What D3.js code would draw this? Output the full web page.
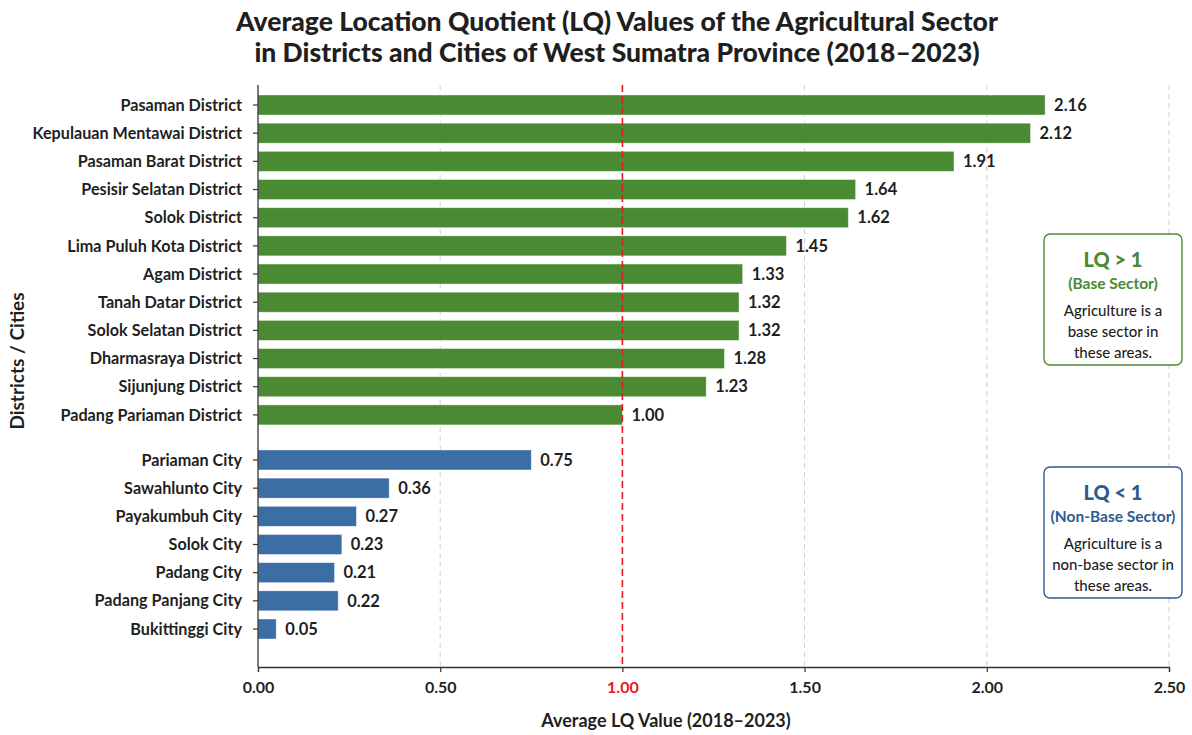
<!DOCTYPE html>
<html>
<head>
<meta charset="utf-8">
<script src="https://cdn.jsdelivr.net/npm/d3@7"></script>
<style>
  body { margin: 0; background: #fff; }
  svg { display: block; font-family: Lato, "Open Sans", sans-serif; }
</style>
</head>
<body>
<div id="chart"></div>
<script>
// Average LQ of the agricultural sector, West Sumatra (2018-2023)
var districts = [
  'Pasaman District', 'Kepulauan Mentawai District', 'Pasaman Barat District',
  'Pesisir Selatan District', 'Solok District', 'Lima Puluh Kota District',
  'Agam District', 'Tanah Datar District', 'Solok Selatan District',
  'Dharmasraya District', 'Sijunjung District', 'Padang Pariaman District'
];
var districtLQ = [2.16, 2.12, 1.91, 1.64, 1.62, 1.45, 1.33, 1.32, 1.32, 1.28, 1.23, 1.00];

var cities = [
  'Pariaman City', 'Sawahlunto City', 'Payakumbuh City', 'Solok City',
  'Padang City', 'Padang Panjang City', 'Bukittinggi City'
];
var cityLQ = [0.75, 0.36, 0.27, 0.23, 0.21, 0.22, 0.05];

var xTicks = [0, 0.5, 1.0, 1.5, 2.0, 2.5];

(function() {
  'use strict';

  var width = 1192, height = 735;
  var green = '#4a8a32', blue = '#3b6ea5', red = '#e8191f', ink = '#1f1f1f';

  var svg = d3.select('#chart').append('svg')
    .attr('width', width)
    .attr('height', height);

  // Title
  var title = svg.append('text')
    .attr('text-anchor', 'middle')
    .style('font-size', '26.5px')
    .style('font-weight', '900')
    .style('fill', ink);
  title.append('tspan').attr('x', 617).attr('y', 31)
    .text('Average Location Quotient (LQ) Values of the Agricultural Sector');
  title.append('tspan').attr('x', 617).attr('y', 62)
    .text('in Districts and Cities of West Sumatra Province (2018\u20132023)');

  // Build rows: districts, then a small gap, then cities
  var rows = districts.map(function(name, i) {
    return { name: name, value: districtLQ[i], slot: i, group: 'district' };
  }).concat(cities.map(function(name, i) {
    return { name: name, value: cityLQ[i], slot: districts.length + 0.6 + i, group: 'city' };
  }));

  var plotTop = 85, plotBottom = 667;
  var x = d3.scaleLinear().domain([0, 2.5]).range([258, 1169]);
  var y = d3.scaleLinear().domain([0, rows.length - 1 + 0.6]).range([105, 629]);
  var barH = 20;

  // Grid lines
  svg.append('g').selectAll('line')
    .data(xTicks.filter(function(t) { return t > 0 && t !== 1.0; }))
    .join('line')
    .attr('x1', function(d) { return x(d); })
    .attr('x2', function(d) { return x(d); })
    .attr('y1', plotTop)
    .attr('y2', plotBottom)
    .style('stroke', '#cfcfcf')
    .style('stroke-width', 1)
    .style('stroke-dasharray', '5,4');

  // Bars
  svg.append('g').selectAll('rect')
    .data(rows)
    .join('rect')
    .attr('x', x(0))
    .attr('y', function(d) { return y(d.slot) - barH / 2; })
    .attr('width', function(d) { return x(d.value) - x(0); })
    .attr('height', barH)
    .style('fill', function(d) { return d.group === 'district' ? green : blue; })
    .style('stroke', 'rgba(255,255,255,0.5)')
    .style('stroke-width', 0.8);

  // Value labels
  svg.append('g').selectAll('text')
    .data(rows)
    .join('text')
    .attr('x', function(d) { return x(d.value) + 9; })
    .attr('y', function(d) { return y(d.slot); })
    .attr('dy', '0.35em')
    .text(function(d) { return d.value.toFixed(2); })
    .style('font-size', '16.5px')
    .style('font-weight', '700')
    .style('fill', ink);

  // Reference line at LQ = 1
  svg.append('line')
    .attr('x1', x(1)).attr('x2', x(1))
    .attr('y1', plotTop).attr('y2', plotBottom)
    .style('stroke', red)
    .style('stroke-width', 1.6)
    .style('stroke-dasharray', '7,4');

  // Y axis
  var yAxis = svg.append('g');
  yAxis.append('line')
    .attr('x1', x(0)).attr('x2', x(0))
    .attr('y1', plotTop).attr('y2', plotBottom)
    .style('stroke', '#333').style('stroke-width', 1.3);
  var yt = yAxis.selectAll('g.tick')
    .data(rows)
    .join('g')
    .attr('class', 'tick')
    .attr('transform', function(d) { return 'translate(' + x(0) + ',' + y(d.slot) + ')'; });
  yt.append('line').attr('x1', -5).attr('x2', 0)
    .style('stroke', '#333').style('stroke-width', 1.2);
  yt.append('text')
    .attr('x', -16)
    .attr('dy', '0.35em')
    .attr('text-anchor', 'end')
    .text(function(d) { return d.name; })
    .style('font-size', '16.2px')
    .style('font-weight', '700')
    .style('fill', ink);

  // X axis
  var xAxis = svg.append('g')
    .attr('transform', 'translate(0,' + plotBottom + ')')
    .call(d3.axisBottom(x).tickValues(xTicks).tickFormat(d3.format('.2f')).tickSize(5).tickPadding(10));
  xAxis.select('.domain').style('stroke', '#333').style('stroke-width', 1.3);
  xAxis.selectAll('.tick line').style('stroke', '#333').style('stroke-width', 1.2);
  xAxis.selectAll('.tick text')
    .style('font-family', 'Lato, sans-serif')
    .style('font-size', '16px')
    .style('font-weight', '700')
    .style('fill', function(d) { return d === 1 ? red : ink; });

  // Axis titles
  svg.append('text')
    .attr('x', 666)
    .attr('y', 727)
    .attr('text-anchor', 'middle')
    .text('Average LQ Value (2018\u20132023)')
    .style('font-size', '18px')
    .style('font-weight', '700')
    .style('fill', ink);

  svg.append('text')
    .attr('transform', 'translate(24,' + 361 + ') rotate(-90)')
    .attr('text-anchor', 'middle')
    .text('Districts / Cities')
    .style('font-size', '19px')
    .style('font-weight', '700')
    .style('fill', ink);

  // Annotation boxes
  var notes = [
    { top: 234, color: green, head: 'LQ > 1', sub: '(Base Sector)',
      lines: ['Agriculture is a', 'base sector in', 'these areas.'] },
    { top: 467, color: '#2f5a8f', head: 'LQ < 1', sub: '(Non-Base Sector)',
      lines: ['Agriculture is a', 'non-base sector in', 'these areas.'] }
  ];
  var box = svg.append('g').selectAll('g')
    .data(notes)
    .join('g')
    .attr('transform', function(d) { return 'translate(1044,' + d.top + ')'; });
  box.append('rect')
    .attr('width', 138).attr('height', 131)
    .attr('rx', 6)
    .style('fill', '#fff')
    .style('stroke', function(d) { return d.color; })
    .style('stroke-width', 1.4);
  box.append('text')
    .attr('x', 69).attr('y', 33)
    .attr('text-anchor', 'middle')
    .text(function(d) { return d.head; })
    .style('font-size', '20px')
    .style('font-weight', '900')
    .style('fill', function(d) { return d.color; });
  box.append('text')
    .attr('x', 69).attr('y', 55)
    .attr('text-anchor', 'middle')
    .text(function(d) { return d.sub; })
    .style('font-size', '15.5px')
    .style('font-weight', '700')
    .style('fill', function(d) { return d.color; });
  box.each(function(d) {
    var g = d3.select(this);
    d.lines.forEach(function(line, i) {
      g.append('text')
        .attr('x', 69).attr('y', 82 + i * 21)
        .attr('text-anchor', 'middle')
        .text(line)
        .style('font-size', '15px')
        .style('font-weight', '500')
        .style('fill', ink);
    });
  });
})();
</script>
</body>
</html>
